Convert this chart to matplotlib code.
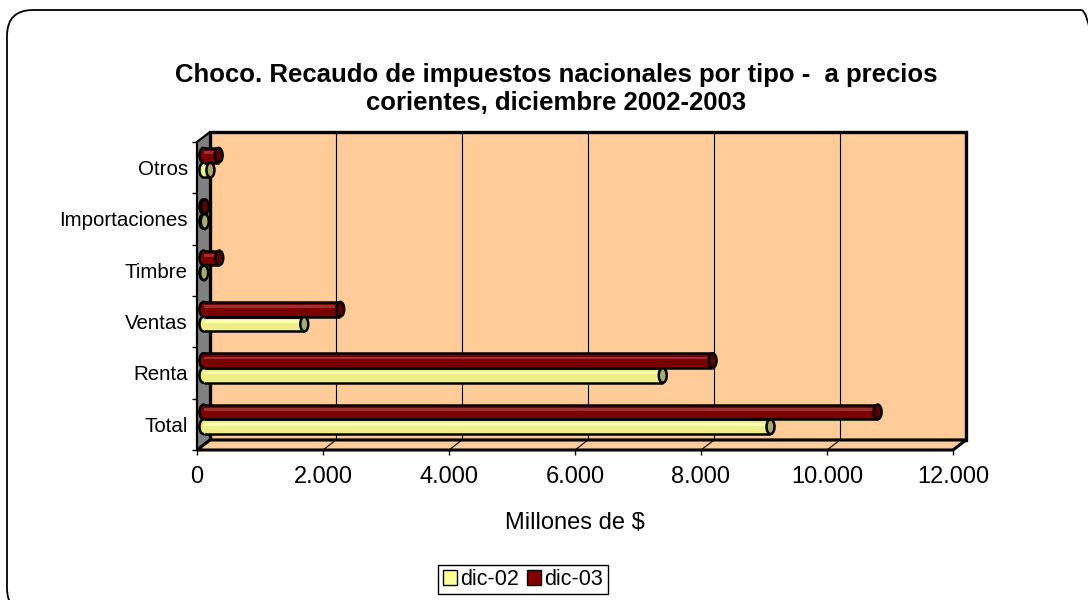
import matplotlib
matplotlib.use("Agg")
import matplotlib.pyplot as plt
from matplotlib.patches import Rectangle, Polygon, Ellipse, FancyBboxPatch, Patch
from matplotlib.transforms import IdentityTransform
from matplotlib.ticker import FuncFormatter
import numpy as np

plt.rcParams['font.family'] = ['Liberation Sans', 'DejaVu Sans']

# datos (millones de $)
categorias = ["Total", "Renta", "Ventas", "Timbre", "Importaciones", "Otros"]
dic_02 = [9000, 7290, 1600, 10, 20, 110]
dic_03 = [10700, 8080, 2170, 250, 20, 240]
xticks = [0, 2000, 4000, 6000, 8000, 10000, 12000]

fig = plt.figure(figsize=(10.88, 6), dpi=100)

# marco exterior redondeado
borde = FancyBboxPatch((7, -14), 1100, 604, boxstyle="round,pad=0,rounding_size=26",
                       transform=IdentityTransform(), fc='none', ec='black', lw=1.3)
fig.patches.append(borde)

# ejes = plano frontal
ax = fig.add_axes([197 / 1088, 150 / 600, 756 / 1088, 308 / 600])
ax.set_xlim(0, 12000)
ax.set_ylim(-0.5, 5.5)
ax.patch.set_visible(False)
for s in ax.spines.values():
    s.set_visible(False)

DX = 13 / 756   # profundidad en fraccion de ejes
DY = 10 / 308
sx = 6.5 / 756 * 12000   # desplazamiento a media profundidad (datos)
sy = 5 / 308 * 6

peach = '#FFCC99'
# pared del fondo
ax.add_patch(Rectangle((DX, DY), 1, 1, transform=ax.transAxes, fc=peach, ec='black',
                       lw=2.4, zorder=0.5, clip_on=False))
# pared izquierda
ax.add_patch(Polygon([(0, 0), (DX, DY), (DX, 1 + DY), (0, 1)], closed=True,
                     transform=ax.transAxes, fc='#808080', ec='black', lw=1.6,
                     zorder=0.6, clip_on=False))
# piso
ax.add_patch(Polygon([(0, 0), (1, 0), (1 + DX, DY), (DX, DY)], closed=True,
                     transform=ax.transAxes, fc=peach, ec='black', lw=2.2,
                     zorder=0.6, clip_on=False))
# lineas de division
for t in xticks[1:-1]:
    xf = t / 12000
    ax.plot([xf + DX, xf + DX], [DY, 1 + DY], transform=ax.transAxes, color='black',
            lw=0.8, zorder=0.7, clip_on=False)
    ax.plot([xf, xf + DX], [0, DY], transform=ax.transAxes, color='black',
            lw=0.8, zorder=0.7, clip_on=False)

ew = 8 / 756 * 12000
h = 0.285


def cilindro(x0, x1, yc, body, light, cap):
    ax.add_patch(Ellipse((x0, yc), ew, h, fc=body, ec='black', lw=1.8, zorder=3))
    ax.add_patch(Rectangle((x0, yc - h / 2), x1 - x0, h, fc=body, ec='none', zorder=4))
    ax.add_patch(Rectangle((x0, yc + h * 0.08), x1 - x0, h * 0.18, fc=light, ec='none', zorder=4))
    ax.plot([x0, x1], [yc + h / 2] * 2, color='black', lw=1.8, zorder=5, solid_capstyle='butt')
    ax.plot([x0, x1], [yc - h / 2] * 2, color='black', lw=1.8, zorder=5, solid_capstyle='butt')
    ax.add_patch(Ellipse((x1, yc), ew, h, fc=cap, ec='black', lw=1.8, zorder=6))


for i, (v2, v3) in enumerate(zip(dic_02, dic_03)):
    cilindro(sx, v3 + sx, i + 0.145 + sy, '#7A0000', '#A03030', '#5A0000')
    cilindro(sx, v2 + sx, i - 0.145 + sy, '#EEEE88', '#FFFFB0', '#A8A870')

# ticks
ax.set_xticks(xticks)
ax.xaxis.set_major_formatter(FuncFormatter(lambda v, p: f"{int(v):,}".replace(",", ".")))
ax.tick_params(axis='x', length=3.8, width=1, labelsize=17, pad=8, color='black')
ax.set_yticks(np.arange(-0.5, 6, 1))
ax.set_yticklabels([])
ax.set_yticks(range(len(categorias)), minor=True)
ax.set_yticklabels(categorias, minor=True)
ax.tick_params(axis='y', which='major', length=3.8, width=1, color='black')
ax.tick_params(axis='y', which='minor', length=0, labelsize=14.8, pad=6.5)

fig.text(575 / 1088, 1 - 523 / 600, "Millones de $", ha='center', va='center', fontsize=17)

fig.text(556 / 1088, 1 - 89 / 600,
         "Choco. Recaudo de impuestos nacionales por tipo -  a precios\ncorientes, diciembre 2002-2003",
         ha='center', va='center', fontsize=18.5, fontweight='bold', linespacing=1.17)

handles = [Patch(fc='#FFFF99', ec='black', lw=1), Patch(fc='#800000', ec='black', lw=1)]
leg = fig.legend(handles, ["dic-02", "dic-03"], loc='center',
                 bbox_to_anchor=(523 / 1088, 1 - 579.5 / 600), ncol=2, fontsize=15.5,
                 frameon=True, fancybox=False, edgecolor='black', framealpha=1,
                 handlelength=0.65, handleheight=0.65, handletextpad=0.15,
                 columnspacing=0.4, borderpad=0.2, borderaxespad=0)
leg.get_frame().set_linewidth(1)

fig.savefig("out.png", dpi=100)
